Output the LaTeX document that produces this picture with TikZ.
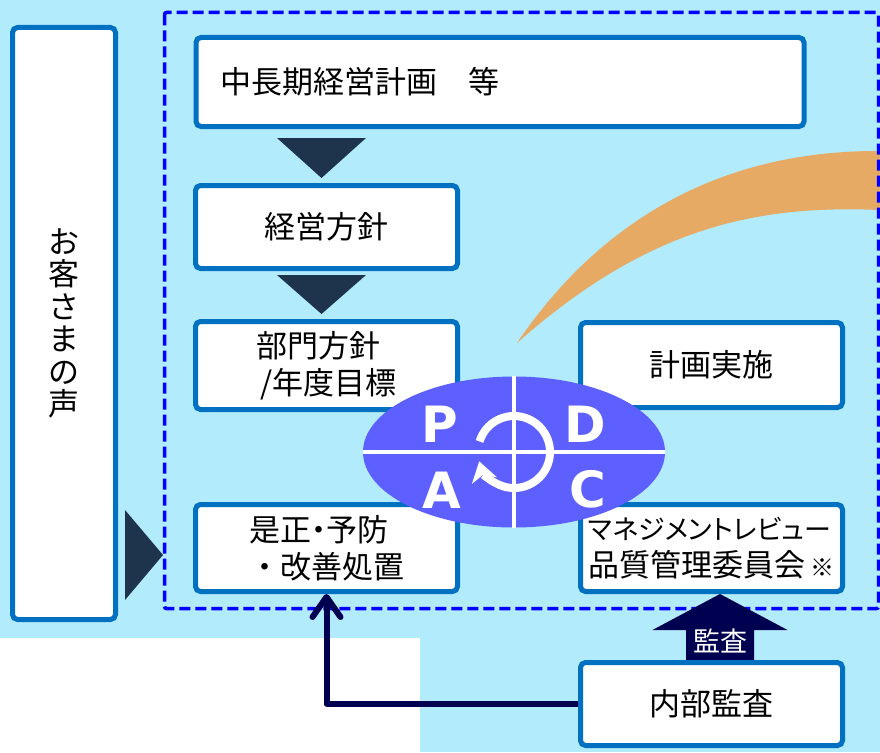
\documentclass[tikz,border=0pt]{standalone}
\usepackage{fontspec}
\setmainfont{Noto Sans CJK JP}
\newfontfamily\pdcafont{DejaVu Sans}
\newfontfamily\kanafont[RawFeature=+palt]{Noto Sans CJK JP}
\usetikzlibrary{shapes,arrows.meta,calc}

\definecolor{skyback}{RGB}{178,235,252}
\definecolor{boxline}{RGB}{0,112,192}
\definecolor{dashline}{RGB}{0,0,255}
\definecolor{darktri}{RGB}{30,51,76}
\definecolor{pdcafill}{RGB}{93,95,255}
\definecolor{navyline}{RGB}{0,0,80}
\definecolor{arcorange}{RGB}{230,170,100}

\begin{document}
\begin{tikzpicture}[x=1pt,y=-1pt]
  \tikzstyle{box}=[rectangle,rounded corners=5pt,draw=boxline,line width=5pt,fill=white,inner sep=0pt,font=\fontsize{31}{37}\selectfont]
  \tikzstyle{wide}=[box,minimum width=262pt]
  \tikzstyle{pdcaletter}=[text=white,inner sep=0pt,font=\pdcafont\bfseries\fontsize{50}{50}\selectfont]

  \useasboundingbox (0,0) rectangle (880,752);
  \fill[skyback] (0,0) rectangle (880,752);
  \fill[white] (0,638) rectangle (420,752);

  \fill[arcorange] (517,343) .. controls (580,250) and (690,150) .. (880,151) -- (880,210) .. controls (760,205) and (650,225) .. (517,343) -- cycle;
  \draw[dashline,line width=3.5pt,dash pattern=on 11pt off 5pt,rounded corners=2pt] (164.5,12.5) rectangle (878.5,608.5);

  \node[box,minimum width=103pt,minimum height=592pt,align=center,font=\fontsize{31}{32.5}\selectfont] (voice) at (64,323.5) {お\\客\\さ\\ま\\の\\声};
  \node[box,minimum width=608pt,minimum height=89pt,text width=560pt,align=left] (plan) at (500,82) {中長期経営計画　等};
  \node[wide,minimum height=83pt] (policy) at (326.5,227) {経営方針};
  \node[wide,minimum height=88pt,align=left] (dept) at (326.5,365.5) {部門方針\\\hspace*{4pt}/年度目標};
  \node[wide,minimum height=85pt] (exec) at (711.5,365) {計画実施};
  \node[wide,minimum height=87pt,align=left] (fix) at (326.5,548) {\kanafont 是正・予防\\・改善処置};
  \node[wide,minimum height=87pt,align=left] (review) at (711.5,548) {{\kanafont\fontsize{27}{27}\selectfont マネジメントレビュー}\\品質管理委員会\,{\fontsize{24}{24}\selectfont ※}};

  \foreach \up/\down/\gap in {plan/policy/9,policy/dept/4}
    \fill[darktri] ($(\down.north |- \up.south)+(-49.5,\gap)$) -- ($(\down.north |- \up.south)+(39.5,\gap)$) -- ($(\down.north)+(-5,-5)$) -- cycle;

  \fill[darktri] ($(voice.east |- fix.west)+(7,-38)$) -- ($(voice.east |- fix.west)+(7,52)$) -- ($(voice.east |- fix.west)+(45,7)$) -- cycle;

  \coordinate (tip) at ($(review.south)+(8.5,0)$);
  \fill[navyline] (tip) -- ++(67.5,36) -- ++(-33.5,0) -- ++(0,40) -- ++(-68,0) -- ++(0,-40) -- ++(-33.5,0) -- cycle;
  \node[text=white,font=\fontsize{27}{27}\selectfont] (auditlabel) at ($(tip)+(0,47)$) {監査};

  \node[wide,minimum height=83pt] (audit) at (711.5,704) {内部監査};
  \draw[navyline,line width=6pt,line join=round,-{Straight Barb[length=20pt,width=28pt,round]}] (audit.west) -| (fix.south);

  \node[ellipse,fill=pdcafill,minimum width=302pt,minimum height=151pt,inner sep=0pt] (wheel) at (514,452) {};
  \draw[white,line width=3.5pt] (wheel.west) -- (wheel.east) (wheel.north) -- (wheel.south);
  \draw[white,line width=8pt,-{Stealth[length=20pt,width=26pt,inset=6pt,line width=0pt]}] (wheel.center) ++(-163:36) arc[start angle=-163,end angle=165,radius=36];

  \foreach \letter/\dx/\dy in {P/-74/-28,D/71/-28,A/-72/38,C/74/37}
    \node[pdcaletter] (pdca-\letter) at ($(wheel.center)+(\dx,\dy)$) {\letter};
\end{tikzpicture}
\end{document}
